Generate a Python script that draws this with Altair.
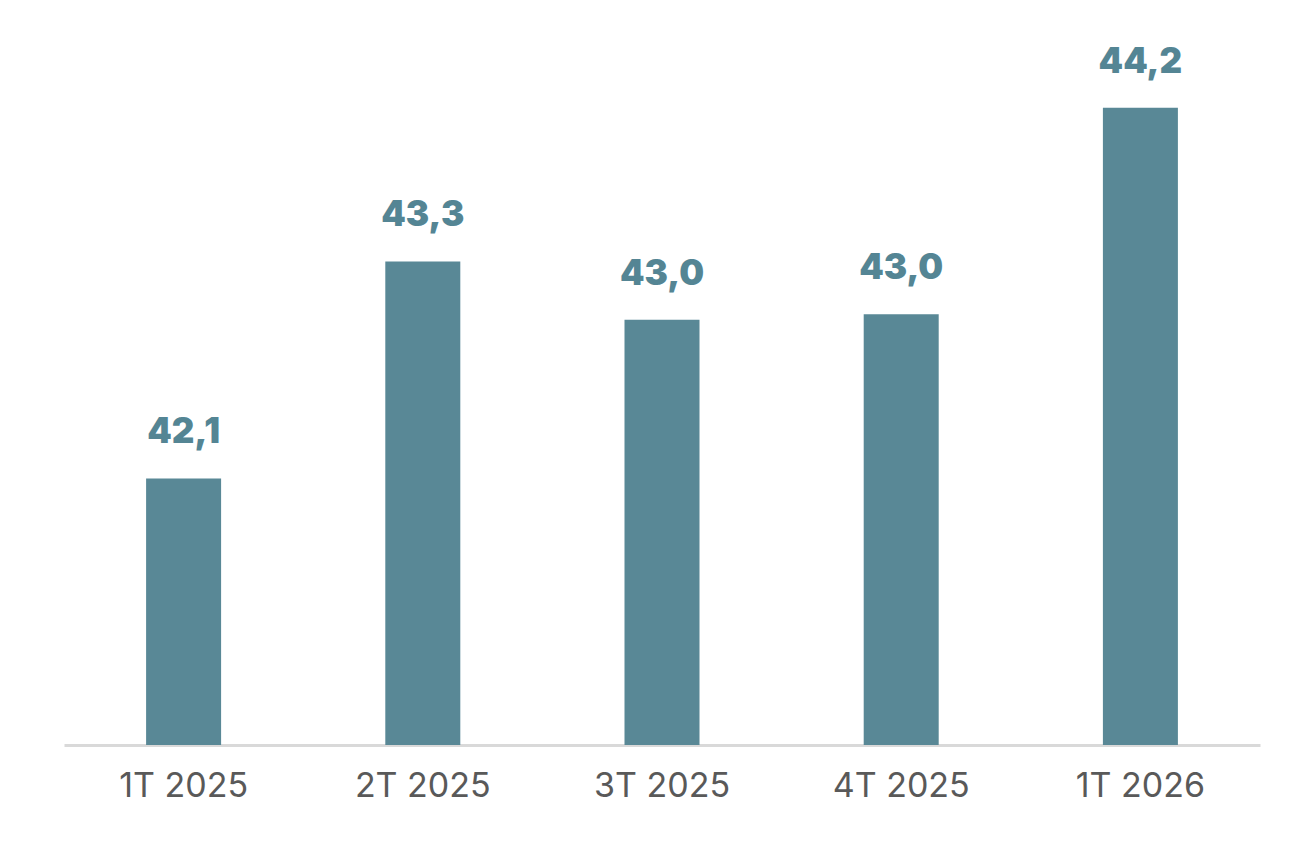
import altair as alt
import pandas as pd

categories = ["1T 2025", "2T 2025", "3T 2025", "4T 2025", "1T 2026"]
values = [42.11, 43.34, 43.01, 43.04, 44.21]

df = pd.DataFrame({"cat": categories, "value": values})

BAR = "#598896"
LABEL = "#548594"
FONT = "Inter"

base = alt.Chart(df).encode(
    x=alt.X("cat:N", sort=categories, title=None,
            scale=alt.Scale(paddingInner=0, paddingOuter=0),
            axis=alt.Axis(labelAngle=0, labelFontSize=34, labelColor="#595959",
                          labelFont=FONT, labelPadding=24, ticks=False,
                          domainColor="#d9d9d9", domainWidth=3, labelFontWeight=400)),
    y=alt.Y("value:Q", title=None,
            scale=alt.Scale(domain=[40.6, 44.6], zero=False, nice=False, clamp=True),
            axis=None),
)

bars = base.mark_bar(size=75, color=BAR)

text = base.transform_calculate(
    label="replace(format(datum.value, '.1f'), '.', ',')"
).mark_text(
    baseline="alphabetic", dy=-35, fontSize=35, fontWeight=900, font=FONT, color=LABEL
).encode(text="label:N")

chart = (bars + text).properties(
    width=1196, height=706,
    autosize=alt.AutoSizeParams(type="none"),
    padding={"left": 56, "top": 31, "right": 30, "bottom": 90},
).configure_view(stroke=None).configure_axis(grid=False)

chart.save("out.html", embed_options={"renderer": "svg", "actions": False})
